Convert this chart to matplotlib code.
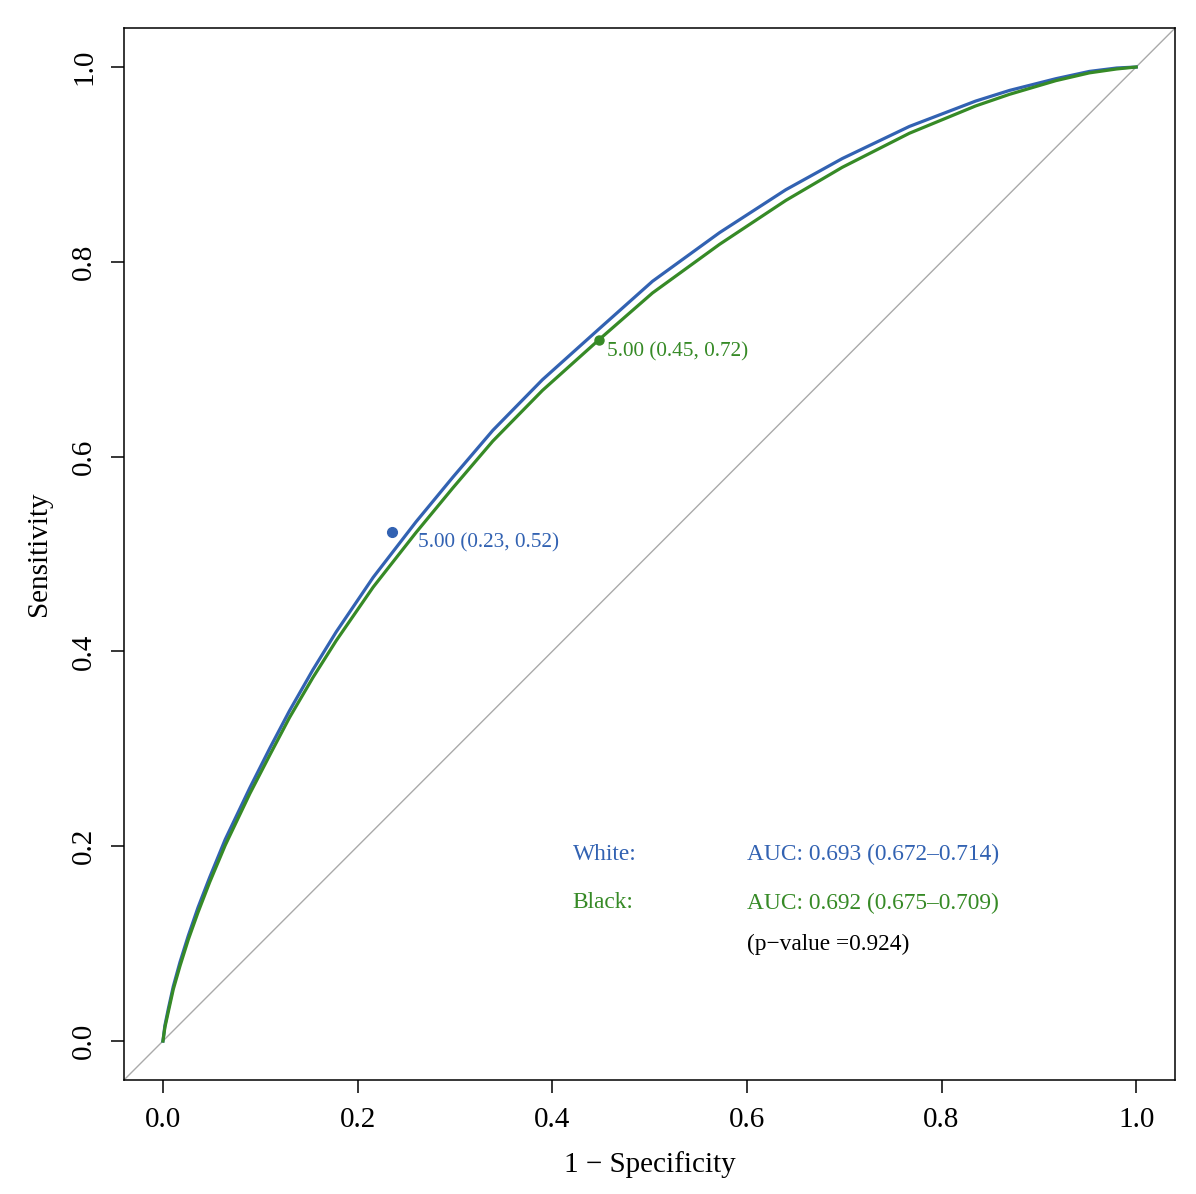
import matplotlib
matplotlib.use("Agg")
import matplotlib.pyplot as plt

plt.rcParams['font.family'] = ['Liberation Serif', 'DejaVu Serif']

# smoothed ROC curves (1 - specificity, sensitivity)
fpr = [0, 0.002, 0.0055, 0.0106, 0.0175, 0.026, 0.036, 0.048, 0.064, 0.0893,
       0.110, 0.130, 0.154, 0.178, 0.216, 0.260, 0.298, 0.339, 0.39, 0.448,
       0.503, 0.572, 0.640, 0.698, 0.767, 0.835, 0.870, 0.9175, 0.952, 0.98, 1.0]

white_tpr = [0, 0.016, 0.033, 0.056, 0.081, 0.108, 0.137, 0.168, 0.207, 0.260,
             0.301, 0.339, 0.381, 0.420, 0.476, 0.533, 0.579, 0.627, 0.679, 0.731,
             0.780, 0.830, 0.874, 0.906, 0.939, 0.965, 0.976, 0.988, 0.9955, 0.999, 1.0]

black_tpr = [0, 0.014, 0.030, 0.053, 0.077, 0.104, 0.132, 0.163, 0.201, 0.254,
             0.294, 0.332, 0.373, 0.411, 0.466, 0.522, 0.568, 0.616, 0.668, 0.720,
             0.768, 0.818, 0.863, 0.897, 0.932, 0.960, 0.972, 0.986, 0.994, 0.998, 1.0]

# best thresholds
white_thr = (0.235, 0.523)
black_thr = (0.448, 0.720)
white_thr_label = "5.00 (0.23, 0.52)"
black_thr_label = "5.00 (0.45, 0.72)"

white_auc = "AUC: 0.693 (0.672\u20130.714)"
black_auc = "AUC: 0.692 (0.675\u20130.709)"
p_text = "(p\u2212value =0.924)"

ticks = [0.0, 0.2, 0.4, 0.6, 0.8, 1.0]

blue = '#3262B2'
green = '#368A26'

fig = plt.figure(figsize=(11.96, 11.94), dpi=100)
ax = fig.add_axes([0.1037, 0.0955, 0.8788, 0.881])

ax.plot([-0.04, 1.04], [-0.04, 1.04], color='#AAAAAA', lw=1.0, zorder=1)
ax.plot(fpr, white_tpr, color=blue, lw=2.3, zorder=3)
ax.plot(fpr, black_tpr, color=green, lw=2.3, zorder=3)

ax.plot(*white_thr, 'o', color=blue, ms=7, zorder=4)
ax.plot(*black_thr, 'o', color=green, ms=6.5, zorder=4)
ax.text(0.262, 0.511, white_thr_label, color=blue, fontsize=15.3, va='center', ha='left')
ax.text(0.456, 0.708, black_thr_label, color=green, fontsize=15.3, va='center', ha='left')

ax.text(0.421, 0.192, "White:", color=blue, fontsize=16.8, va='center')
ax.text(0.6006, 0.192, white_auc, color=blue, fontsize=16.8, va='center')
ax.text(0.421, 0.1417, "Black:", color=green, fontsize=16.8, va='center')
ax.text(0.6006, 0.1417, black_auc, color=green, fontsize=16.8, va='center')
ax.text(0.6006, 0.0996, p_text, color='black', fontsize=16.8, va='center')

ax.set_xlim(-0.04, 1.04)
ax.set_ylim(-0.04, 1.04)
ax.set_xticks(ticks)
ax.set_yticks(ticks)
ax.set_xticklabels([f"{t:.1f}" for t in ticks])
ax.set_yticklabels([f"{t:.1f}" for t in ticks], rotation=90, va='center')
ax.tick_params(labelsize=21, length=9.4, width=1.1, pad=10)
for s in ax.spines.values():
    s.set_linewidth(1.1)

ax.set_xlabel("1 \u2212 Specificity", fontsize=21, labelpad=13)
ax.set_ylabel("Sensitivity", fontsize=21, labelpad=14)

fig.savefig("out.png", dpi=100)
